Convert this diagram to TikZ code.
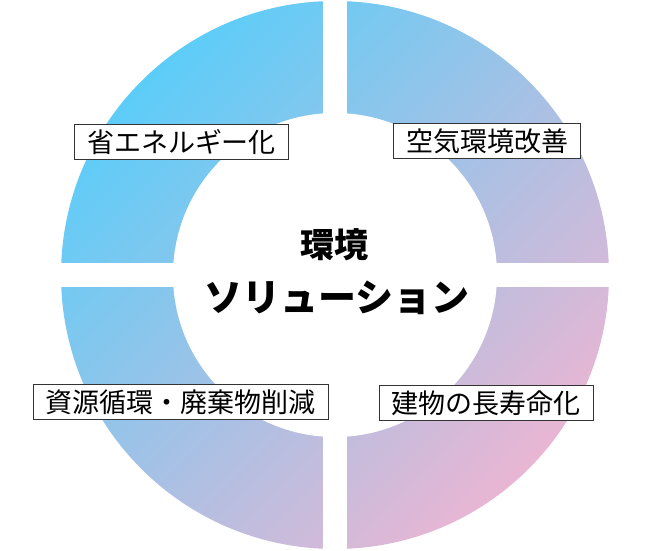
\documentclass[tikz,border=0pt]{standalone}
\usepackage{fontspec}
\newfontfamily\jpfont{Noto Sans CJK JP}
\definecolor{ringblue}{HTML}{5CCDF8}
\definecolor{ringpink}{HTML}{E9B6D3}
\definecolor{boxline}{HTML}{333333}
\tikzset{
  topic/.style={draw=boxline, line width=1pt, fill=white, inner xsep=12.5pt, inner ysep=5pt,
    font=\jpfont\fontsize{27}{27}\selectfont},
  title/.style={inner sep=0pt, font=\jpfont\bfseries\fontsize{34}{34}\selectfont},
  subtitle/.style={inner sep=0pt, font=\jpfont\bfseries\fontsize{38}{38}\selectfont}
}
\begin{document}
\begin{tikzpicture}[x=1pt, y=-1pt]
    \useasboundingbox (0, 0) rectangle (670, 550);

    % Ring
    \shade[top color=ringblue, bottom color=ringpink, shading angle=45] (335, 275) circle [radius=274];
    \fill[white] (335, 275) circle [radius=162];

    % Gaps
    \fill[white] (323, -2) rectangle (347, 552);
    \fill[white] (50, 263) rectangle (620, 287);

    % Center
    \node[title] (title) at (334, 245) {環境};
    \node[subtitle] (subtitle) at (337, 298) {ソリューション};

    % Topics
    \node[topic] (energy) at (181.5, 142) {省エネルギー化};
    \node[topic] (air) at (487, 141) {空気環境改善};
    \node[topic] (waste) at (180.5, 402) {資源循環・廃棄物削減};
    \node[topic] (life) at (486, 403) {建物の長寿命化};
\end{tikzpicture}
\end{document}
